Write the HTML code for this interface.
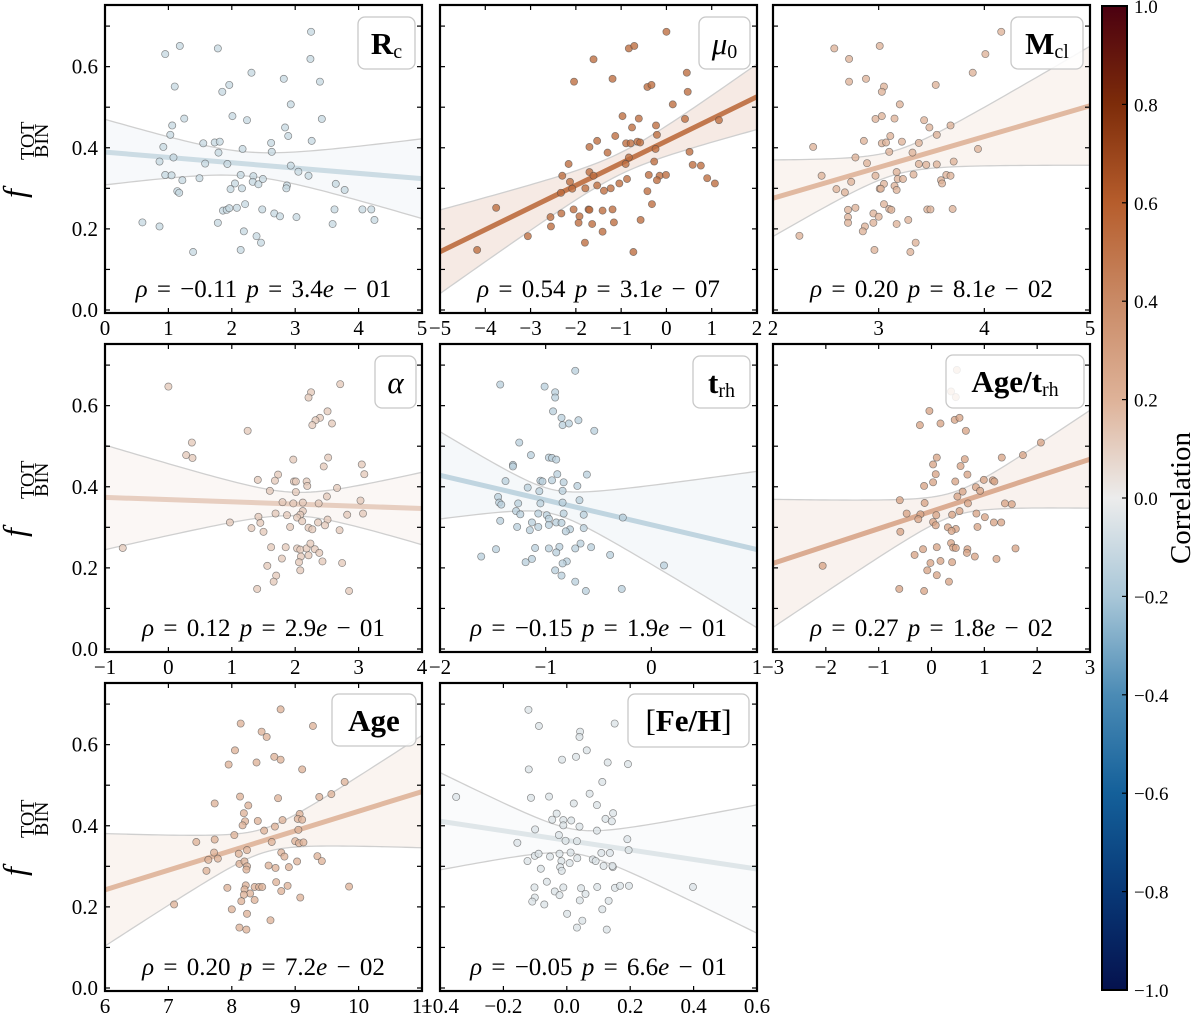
<!DOCTYPE html>
<html><head><meta charset="utf-8"><style>
html,body{margin:0;padding:0;background:#fff;}
svg{display:block;}
svg text{font-family:"Liberation Serif","DejaVu Serif",serif;}
</style></head><body>
<svg id="fig" width="1200" height="1033" viewBox="0 0 1200 1033" xmlns="http://www.w3.org/2000/svg" font-family="Liberation Serif, serif"></svg>
<script>
// ---- data ----
const p1x=[3.25,0.95,1.18,1.78,3.24,2.31,1.10,1.96,1.85,2.82,3.39,2.93,1.25,2.01,2.24,3.42,1.06,1.03,2.84,2.89,0.92,1.55,1.73,1.81,1.79,2.17,2.62,2.63,3.26,1.08,0.86,1.58,1.93,2.93,3.05,3.21,0.95,1.05,1.22,1.49,2.14,2.34,2.33,2.42,2.49,2.05,1.98,2.16,2.87,2.86,3.64,3.78,1.14,1.17,1.86,1.92,1.96,2.08,2.21,2.48,2.67,2.76,3.02,3.62,4.06,4.20,4.25,3.59,0.59,0.86,1.78,2.19,2.39,2.46,1.39,2.14];
const p1y=[0.686,0.631,0.651,0.645,0.619,0.585,0.551,0.555,0.538,0.570,0.563,0.507,0.472,0.478,0.468,0.471,0.455,0.432,0.450,0.429,0.402,0.411,0.413,0.415,0.388,0.397,0.412,0.390,0.417,0.376,0.366,0.361,0.360,0.356,0.341,0.331,0.333,0.332,0.320,0.325,0.333,0.330,0.316,0.310,0.323,0.312,0.298,0.300,0.307,0.300,0.311,0.296,0.293,0.289,0.245,0.247,0.251,0.252,0.261,0.248,0.238,0.231,0.229,0.248,0.248,0.248,0.222,0.212,0.216,0.206,0.215,0.194,0.182,0.166,0.143,0.148];
const p2x=[0.0,-0.83,-0.71,-1.61,-2.04,-1.19,0.45,-0.42,-0.33,0.47,0.14,-0.97,-0.61,0.41,1.16,-0.76,-0.23,-1.13,-0.21,-1.53,-1.70,-0.89,-0.79,-0.64,-0.58,-1.30,-0.24,-0.83,0.51,-2.16,-0.90,-0.27,0.58,0.76,-1.70,-1.61,-2.30,-0.39,-0.15,-0.01,-0.87,-2.13,-1.04,-0.21,0.90,1.07,-1.79,-1.53,-2.08,-2.33,-1.38,-1.23,-0.42,-0.32,-2.05,-1.72,-1.70,-1.41,-1.19,-3.76,-2.32,-1.92,-2.56,-0.57,-1.94,-1.64,-1.16,-2.55,-1.41,-3.06,-1.80,-4.18,-0.73];
const p2y=[0.686,0.645,0.651,0.618,0.563,0.570,0.585,0.550,0.555,0.538,0.507,0.478,0.472,0.471,0.468,0.450,0.455,0.429,0.432,0.417,0.402,0.411,0.411,0.415,0.413,0.388,0.397,0.376,0.390,0.360,0.360,0.366,0.358,0.356,0.340,0.331,0.331,0.333,0.331,0.333,0.323,0.316,0.312,0.320,0.325,0.312,0.300,0.307,0.299,0.289,0.294,0.300,0.293,0.261,0.248,0.248,0.247,0.245,0.248,0.252,0.238,0.231,0.229,0.222,0.215,0.212,0.216,0.206,0.193,0.182,0.166,0.148,0.143];
const p3x=[4.16,2.58,3.01,4.01,2.72,3.89,2.72,2.88,3.05,3.03,3.54,3.20,2.97,3.03,3.15,3.43,3.48,3.68,3.11,3.55,2.86,3.03,3.07,3.22,3.38,2.38,3.94,3.10,3.32,2.78,2.89,3.38,3.45,3.55,3.71,3.17,2.46,2.97,3.18,3.23,3.33,3.64,3.68,2.74,3.05,3.15,3.59,3.60,2.60,2.68,3.01,3.02,3.17,3.05,3.10,3.12,2.71,2.78,3.46,3.49,3.70,2.71,2.71,2.95,3.00,2.95,3.17,3.28,2.87,2.85,2.25,3.35,2.96,3.30];
const p3y=[0.686,0.645,0.651,0.631,0.619,0.585,0.563,0.570,0.551,0.538,0.555,0.507,0.471,0.478,0.472,0.468,0.450,0.455,0.429,0.432,0.417,0.411,0.413,0.415,0.412,0.402,0.397,0.390,0.388,0.376,0.362,0.360,0.358,0.359,0.366,0.340,0.331,0.331,0.323,0.323,0.334,0.333,0.331,0.316,0.311,0.306,0.320,0.312,0.298,0.290,0.299,0.299,0.296,0.261,0.249,0.247,0.247,0.252,0.248,0.248,0.249,0.229,0.215,0.238,0.230,0.215,0.212,0.222,0.206,0.194,0.183,0.166,0.148,0.143];
const p4x=[0.0,2.71,2.25,2.21,2.51,2.39,2.32,2.27,2.58,1.25,0.37,0.28,0.38,1.97,2.52,2.45,3.05,3.09,1.73,1.68,1.41,1.98,2.01,2.18,2.19,2.66,1.60,2.01,1.80,1.97,2.12,2.37,2.50,3.03,2.12,1.69,1.87,2.08,2.03,2.11,2.51,2.82,3.07,1.42,1.45,0.97,1.31,1.92,2.21,2.27,2.36,2.47,1.50,2.70,-0.72,1.62,1.85,2.03,2.08,2.18,2.24,2.31,2.38,2.21,2.09,1.79,1.56,2.06,2.43,2.74,2.08,1.70,1.66,1.40,2.85];
const p4y=[0.647,0.653,0.633,0.620,0.586,0.570,0.564,0.552,0.556,0.538,0.509,0.478,0.471,0.467,0.472,0.450,0.455,0.431,0.430,0.415,0.417,0.413,0.413,0.413,0.402,0.397,0.390,0.387,0.362,0.359,0.361,0.359,0.376,0.366,0.340,0.334,0.330,0.331,0.324,0.315,0.319,0.331,0.334,0.326,0.311,0.312,0.298,0.301,0.299,0.295,0.312,0.305,0.289,0.293,0.249,0.251,0.251,0.248,0.245,0.248,0.260,0.246,0.237,0.231,0.228,0.223,0.205,0.214,0.216,0.212,0.194,0.181,0.166,0.148,0.143];
const p5x=[-0.72,-1.43,-1.01,-0.91,-0.91,-0.93,-0.85,-0.69,-0.84,-0.78,-0.54,-1.25,-1.14,-0.97,-0.94,-0.90,-1.31,-1.31,-0.61,-0.89,-1.38,-1.05,-1.03,-0.94,-0.83,-1.17,-0.70,-1.06,-0.84,-1.45,-0.68,-1.44,-1.42,-1.26,-1.05,-0.84,-1.28,-1.24,-1.07,-0.99,-0.83,-0.64,-0.27,-0.97,-1.43,-1.13,-0.90,-0.85,-0.97,-1.27,-1.07,-1.15,-0.64,-0.77,-0.81,-0.67,-0.72,-0.57,-0.87,-1.10,-0.97,-0.90,-1.47,-1.61,-1.13,-1.19,-0.80,-0.84,-0.39,0.12,-0.91,-0.85,-0.72,-0.62,-0.28];
const p5y=[0.686,0.652,0.647,0.633,0.620,0.586,0.570,0.564,0.552,0.556,0.538,0.509,0.478,0.472,0.471,0.467,0.454,0.450,0.430,0.431,0.414,0.415,0.413,0.416,0.411,0.398,0.402,0.389,0.390,0.375,0.367,0.361,0.356,0.359,0.359,0.361,0.340,0.332,0.334,0.330,0.334,0.331,0.324,0.321,0.316,0.312,0.312,0.311,0.306,0.301,0.301,0.293,0.298,0.295,0.290,0.260,0.248,0.251,0.252,0.249,0.248,0.238,0.246,0.228,0.222,0.214,0.216,0.211,0.232,0.206,0.194,0.181,0.166,0.143,0.148];
const p6x=[0.48,0.37,0.46,-0.04,-0.22,0.17,0.44,0.53,0.65,2.07,1.73,1.33,0.10,0.63,0.03,0.55,0.08,0.68,0.99,1.16,1.19,0.45,0.03,-0.14,0.84,0.92,0.59,0.49,-0.60,-0.13,0.69,1.39,1.52,-0.47,-0.21,0.53,0.39,0.09,0.85,1.01,-0.25,0.03,0.08,1.18,1.32,0.31,0.46,0.38,0.87,-0.59,0.37,0.41,0.46,0.10,-0.16,0.68,0.67,0.82,1.59,-0.32,1.23,0.17,0.39,-0.02,-2.06,-0.08,0.10,0.33,-0.61,-0.14];
const p6y=[0.688,0.635,0.621,0.587,0.552,0.556,0.565,0.570,0.538,0.509,0.478,0.472,0.472,0.468,0.455,0.451,0.431,0.430,0.417,0.416,0.413,0.413,0.411,0.402,0.399,0.390,0.388,0.376,0.367,0.360,0.359,0.359,0.357,0.334,0.332,0.340,0.331,0.330,0.334,0.325,0.320,0.313,0.305,0.312,0.312,0.300,0.296,0.291,0.301,0.289,0.261,0.250,0.249,0.251,0.246,0.246,0.237,0.228,0.248,0.232,0.222,0.217,0.214,0.212,0.205,0.194,0.182,0.166,0.148,0.143];
const p7x=[8.77,8.14,9.28,8.47,8.55,8.05,7.95,8.67,8.77,8.39,9.11,9.78,8.13,8.73,7.73,9.57,9.38,8.26,8.19,9.07,9.04,9.11,8.21,8.41,8.17,8.80,8.68,9.05,8.51,8.04,7.73,7.44,9.00,9.06,9.13,8.63,7.72,8.11,8.24,8.78,8.83,9.35,9.42,7.63,7.78,8.12,8.20,8.24,8.58,8.69,8.90,9.03,7.60,8.23,7.93,8.22,8.20,8.36,8.43,8.48,8.70,8.88,8.78,9.08,9.85,8.29,8.36,8.19,8.15,7.09,8.00,8.24,8.61,8.12,8.23];
const p7y=[0.687,0.652,0.646,0.632,0.619,0.586,0.551,0.570,0.563,0.556,0.539,0.508,0.472,0.468,0.455,0.478,0.471,0.450,0.431,0.429,0.417,0.415,0.411,0.412,0.401,0.414,0.398,0.390,0.388,0.377,0.366,0.360,0.362,0.357,0.359,0.360,0.334,0.331,0.340,0.334,0.324,0.325,0.313,0.316,0.319,0.306,0.312,0.300,0.302,0.296,0.298,0.312,0.289,0.292,0.247,0.253,0.243,0.249,0.249,0.249,0.261,0.252,0.239,0.223,0.250,0.233,0.217,0.230,0.214,0.206,0.194,0.183,0.167,0.149,0.144];
const p8x=[-0.121,-0.088,0.042,0.040,0.151,0.063,0.029,-0.015,0.129,0.193,-0.120,0.112,-0.349,-0.113,-0.056,0.072,0.022,0.095,-0.032,-0.046,-0.011,0.014,-0.011,0.040,0.122,0.142,0.146,-0.100,0.095,-0.025,-0.156,-0.004,0.032,0.191,0.195,-0.101,-0.089,-0.053,-0.023,0.012,0.033,-0.124,-0.017,0.009,0.082,0.091,0.109,0.136,0.116,0.145,0.144,-0.082,-0.021,-0.016,-0.063,-0.102,-0.011,-0.038,-0.023,0.045,0.059,0.096,0.152,0.168,0.196,0.398,-0.101,-0.109,-0.071,0.041,0.132,0.112,0.001,0.049,0.032,0.126];
const p8y=[0.686,0.646,0.632,0.619,0.652,0.586,0.570,0.563,0.556,0.552,0.539,0.508,0.471,0.469,0.472,0.479,0.455,0.451,0.430,0.415,0.414,0.413,0.401,0.398,0.417,0.411,0.431,0.391,0.388,0.377,0.358,0.363,0.362,0.367,0.340,0.326,0.331,0.324,0.331,0.334,0.320,0.313,0.313,0.308,0.317,0.313,0.333,0.333,0.301,0.298,0.301,0.294,0.298,0.289,0.262,0.248,0.248,0.238,0.229,0.246,0.232,0.249,0.247,0.252,0.252,0.249,0.223,0.213,0.206,0.216,0.215,0.194,0.183,0.166,0.149,0.144];
const rhoValues=[-0.11,0.54,0.20,0.12,-0.15,0.27,0.20,-0.05];
const rhoText=["\u22120.11","0.54","0.20","0.12","\u22120.15","0.27","0.20","\u22120.05"];
const pMantissa=["3.4","3.1","8.1","2.9","1.9","1.8","7.2","6.6"];
const pExponent=["01","07","02","01","01","02","02","01"];
const xDomains=[[0,5],[-5,2],[2,5],[-1,4],[-2,1],[-3,3],[6,11],[-0.4,0.6]];
const xTickVals=[[0,1,2,3,4,5],[-5,-4,-3,-2,-1,0,1,2],[2,3,4,5],[-1,0,1,2,3,4],[-2,-1,0,1],[-3,-2,-1,0,1,2,3],[6,7,8,9,10,11],[-0.4,-0.2,0,0.2,0.4,0.6]];
const xTickLabels=[["0","1","2","3","4","5"],["\u22125","\u22124","\u22123","\u22122","\u22121","0","1","2"],["2","3","4","5"],["\u22121","0","1","2","3","4"],["\u22122","\u22121","0","1"],["\u22123","\u22122","\u22121","0","1","2","3"],["6","7","8","9","10","11"],["\u22120.4","\u22120.2","0.0","0.2","0.4","0.6"]];
const yTickVals=[0,0.1,0.2,0.3,0.4,0.5,0.6,0.7];
const yLabelVals=[0,0.2,0.4,0.6];
const yLabelText=["0.0","0.2","0.4","0.6"];
const cbTickVals=[-1,-0.8,-0.6,-0.4,-0.2,0,0.2,0.4,0.6,0.8,1];
const cbTickText=["\u22121.0","\u22120.8","\u22120.6","\u22120.4","\u22120.2","0.0","0.2","0.4","0.6","0.8","1.0"];
const panelNames=["rc","mu0","mcl","alpha","trh","age-trh","age","feh"];
const panelLabels=['<tspan font-weight="bold">R</tspan><tspan font-size="20" dy="4">c</tspan>',
 '<tspan font-style="italic">\u03bc</tspan><tspan font-size="20" dy="4">0</tspan>',
 '<tspan font-weight="bold">M</tspan><tspan font-size="20" dy="4">cl</tspan>',
 '<tspan font-style="italic">\u03b1</tspan>',
 '<tspan font-weight="bold">t</tspan><tspan font-size="20" dy="4">rh</tspan>',
 '<tspan font-weight="bold">Age/t</tspan><tspan font-size="20" dy="4">rh</tspan>',
 '<tspan font-weight="bold">Age</tspan>',
 '<tspan>[</tspan><tspan font-weight="bold">Fe/H</tspan><tspan>]</tspan>'];
const seriesX=[p1x,p2x,p3x,p4x,p5x,p6x,p7x,p8x];
const seriesY=[p1y,p2y,p3y,p4y,p5y,p6y,p7y,p8y];

// ---- layout ----
const colX=[105,440,773], rowY=[5,344,683], PW=317, PH=308, YD=[-0.0074,0.752];
const boxes=[[358,17,57,52],[699,17,51,52],[1011,17,72,52],[375,356,41,52],[693,356,57,52],[946,355,138,53],[332,694,84,52],[628,694,121,53]];
const cmapStops=[[-1,[5,18,78]],[-0.8,[8,56,118]],[-0.6,[20,96,154]],[-0.4,[75,139,181]],[-0.2,[169,199,216]],[0,[236,236,236]],[0.2,[222,178,152]],[0.4,[201,138,102]],[0.6,[182,93,44]],[0.8,[125,44,10]],[1,[75,0,16]]];
function cmap(v){for(let i=0;i<cmapStops.length-1;i++){const a=cmapStops[i],b=cmapStops[i+1];if(v<=b[0]){const t=(v-a[0])/(b[0]-a[0]);const c=a[1].map((q,k)=>Math.round(q+(b[1][k]-q)*t));return `rgb(${c[0]},${c[1]},${c[2]})`;}}return 'rgb(75,0,16)';}
const NS="http://www.w3.org/2000/svg";
const svg=document.getElementById('fig');
function mk(tag,attrs,parent){const e=document.createElementNS(NS,tag);for(const k in attrs)e.setAttribute(k,attrs[k]);if(tag==='text')e.setAttribute('font-family','Liberation Serif, serif');(parent||svg).appendChild(e);return e;}

const defs=mk('defs',{});
for(let i=0;i<8;i++){
  const col=i%3,row=Math.floor(i/3);
  const x0=colX[col],y0=rowY[row];
  const dom=xDomains[i];
  const sx=v=>x0+(v-dom[0])/(dom[1]-dom[0])*PW;
  const sy=v=>y0+PH-(v-YD[0])/(YD[1]-YD[0])*PH;
  const g=mk('g',{});
  
  
  const cp=mk('clipPath',{id:'cp'+i},defs);
  mk('rect',{x:x0,y:y0,width:PW,height:PH},cp);
  const color=cmap(rhoValues[i]);
  const xs=seriesX[i],ys=seriesY[i],n=xs.length;
  const mx=xs.reduce((a,b)=>a+b,0)/n,my=ys.reduce((a,b)=>a+b,0)/n;
  let sxx=0,sxy=0;for(let k=0;k<n;k++){sxx+=(xs[k]-mx)**2;sxy+=(xs[k]-mx)*(ys[k]-my);}
  const b=sxy/sxx,a=my-b*mx;
  let sse=0;for(let k=0;k<n;k++)sse+=(ys[k]-a-b*xs[k])**2;
  const s=Math.sqrt(sse/(n-2)),t=1.99;
  const up=[],lo=[];
  for(let k=0;k<=60;k++){const xv=dom[0]+(dom[1]-dom[0])*k/60;const yh=a+b*xv;const se=t*s*Math.sqrt(1/n+(xv-mx)**2/sxx);up.push([sx(xv),sy(yh+se)]);lo.push([sx(xv),sy(yh-se)]);}
  const cg=mk('g',{'clip-path':`url(#cp${i})`},g);
  const band=mk('path',{d:'M'+up.map(p=>p.join(',')).join('L')+'L'+lo.slice().reverse().map(p=>p.join(',')).join('L')+'Z',fill:color,'fill-opacity':0.14,stroke:'none'},cg);
  
  
  mk('path',{d:'M'+up.map(p=>p.join(',')).join('L'),fill:'none',stroke:'#cfcfcf','stroke-width':1.3},cg);
  mk('path',{d:'M'+lo.map(p=>p.join(',')).join('L'),fill:'none',stroke:'#cfcfcf','stroke-width':1.3},cg);
  const ln=mk('line',{x1:sx(dom[0]),y1:sy(a+b*dom[0]),x2:sx(dom[1]),y2:sy(a+b*dom[1]),stroke:color,'stroke-width':5,'stroke-opacity':0.9},cg);
  
  
  for(let k=0;k<n;k++){
    const c=mk('circle',{cx:sx(xs[k]),cy:sy(ys[k]),r:3.6,fill:color,'fill-opacity':0.78,stroke:'#444','stroke-opacity':0.6,'stroke-width':0.7},cg);
    
    
  }
  const tk=mk('g',{stroke:'#000','stroke-width':1.2},g);
  yTickVals.forEach(v=>{const y=sy(v);mk('line',{x1:x0,y1:y,x2:x0+5,y2:y},tk);mk('line',{x1:x0+PW-5,y1:y,x2:x0+PW,y2:y},tk);});
  xTickVals[i].forEach(v=>{const x=sx(v);mk('line',{x1:x,y1:y0,x2:x,y2:y0+5},tk);mk('line',{x1:x,y1:y0+PH-5,x2:x,y2:y0+PH},tk);});
  xTickVals[i].forEach((v,k)=>{const tx=mk('text',{x:sx(v),y:y0+PH+22,'text-anchor':'middle','font-size':21},g);tx.textContent=xTickLabels[i][k];});
  if(col===0){yLabelVals.forEach((v,k)=>{const tx=mk('text',{x:x0-7,y:sy(v)+7,'text-anchor':'end','font-size':21},g);tx.textContent=yLabelText[k];});}
  const fr=mk('rect',{x:x0,y:y0,width:PW,height:PH,fill:'none',stroke:'#000','stroke-width':2.2},g);
  
  
  const st=mk('text',{x:x0+PW/2,y:y0+PH-16,'text-anchor':'middle','font-size':25,'xml:space':'preserve'},g);
  st.innerHTML=`<tspan font-style="italic">\u03c1</tspan> = ${rhoText[i]} <tspan font-style="italic">p</tspan> = ${pMantissa[i]}<tspan font-style="italic">e</tspan> \u2212 ${pExponent[i]}`;
  st.setAttribute('word-spacing','3');
  
  
  const bx=boxes[i];
  const br=mk('rect',{x:bx[0],y:bx[1],width:bx[2],height:bx[3],rx:7,fill:'#fff','fill-opacity':0.85,stroke:'#c8c8c8','stroke-width':1.3},g);
  
  
  const lt=mk('text',{x:bx[0]+bx[2]/2,y:bx[1]+37,'text-anchor':'middle','font-size':31},g);
  lt.innerHTML=panelLabels[i];
  
  
}
for(let r=0;r<3;r++){
  const g=mk('g',{transform:`translate(26,${160+rowY[r]-5}) rotate(-90)`});
  
  
  const f=mk('text',{x:-38,y:-1,'font-size':32,'font-style':'italic'},g);f.textContent='f';
  const t1=mk('text',{x:0,y:8,'font-size':20},g);t1.textContent='TOT';
  const t2=mk('text',{x:2,y:22,'font-size':20},g);t2.textContent='BIN';
}
const cbX=1102,cbW=25,cbTop=6,cbBot=990;
const lg=mk('linearGradient',{id:'cbg',x1:0,y1:1,x2:0,y2:0},defs);
cmapStops.forEach(s=>mk('stop',{offset:(s[0]+1)/2,'stop-color':cmap(s[0])},lg));
const cbr=mk('rect',{x:cbX,y:cbTop,width:cbW,height:cbBot-cbTop,fill:'url(#cbg)',stroke:'#000','stroke-width':2},svg);


const cy=v=>cbBot-(v+1)/2*(cbBot-cbTop);
cbTickVals.forEach((v,k)=>{
  mk('line',{x1:cbX+cbW-5,y1:cy(v),x2:cbX+cbW,y2:cy(v),stroke:'#000','stroke-width':1.2});
  const tx=mk('text',{x:1134,y:cy(v)+7,'font-size':19});tx.textContent=cbTickText[k];
  
  
});
const cl=mk('text',{x:0,y:0,'font-size':29,'text-anchor':'middle',transform:'translate(1190,498) rotate(-90)'});
cl.textContent='Correlation';


</script>
</body></html>
